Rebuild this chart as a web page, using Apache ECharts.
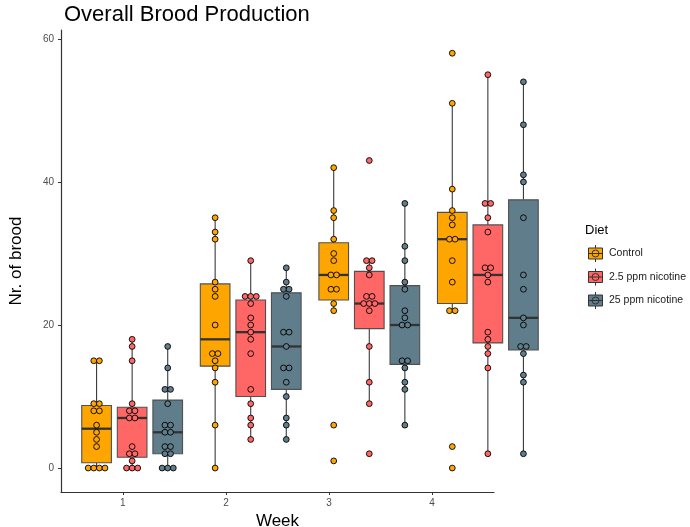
<!DOCTYPE html>
<html>
<head>
<meta charset="utf-8">
<script src="https://cdn.jsdelivr.net/npm/echarts@6/dist/echarts.min.js"></script>
<style>html,body{margin:0;padding:0;background:#fff}#c{width:690px;height:527px}</style>
</head>
<body>
<div id="c"></div>
<script>
// ---- data ----
const weeks = [1, 2, 3, 4];
const weekLabels = ['1', '2', '3', '4'];
const diets = ['Control', '2.5 ppm nicotine', '25 ppm nicotine'];
const yTicks = [0, 20, 40, 60];
const control = [
  [15,15,9,9,8,8,6,5,4,3,0,0,0,0],
  [35,33,32,26,25,24,20,16,16,15,14,12,6,0],
  [42,36,35,32,30,29,27,27,25,25,23,22,6,1],
  [58,51,39,36,35,34,32,32,29,26,22,22,3,0]
];
const nic2_5 = [
  [18,17,15,9,8,8,7,7,3,2,2,1,0,0,0],
  [29,24,24,24,23,21,20,19,18,16,11,9,7,6,4],
  [43,29,29,28,27,24,24,23,23,23,22,17,12,9,2],
  [55,37,37,35,33,28,28,27,26,19,18,17,16,14,2]
];
const nic25 = [
  [17,14,11,11,9,6,6,5,5,3,3,2,2,0,0,0],
  [28,26,25,25,24,19,19,17,14,14,12,10,7,6,4],
  [37,31,29,26,25,22,21,20,20,15,15,14,12,11,6],
  [54,48,41,40,35,27,25,21,20,17,17,16,13,12,2]
];
const groups = [control, nic2_5, nic25];
const colors = ['#FFA500', '#FF6666', '#607D8B'];

// ---- helpers ----
function quant(s, p) {
  const h = (s.length - 1) * p, lo = Math.floor(h);
  const hi = Math.min(lo + 1, s.length - 1);
  return s[lo] + (h - lo) * (s[hi] - s[lo]);
}
function boxStats(arr) {
  const s = arr.slice().sort((a, b) => a - b);
  const q1 = quant(s, 0.25), med = quant(s, 0.5), q3 = quant(s, 0.75);
  const iqr = q3 - q1;
  const lo = Math.min(...s.filter(v => v >= q1 - 1.5 * iqr));
  const hi = Math.max(...s.filter(v => v <= q3 + 1.5 * iqr));
  return [lo, q1, med, q3, hi];
}
const DODGE = 0.3, BOXW = 0.25, DOT_STEP = 5.6, DOT_R = 2.9;

const series = [];
groups.forEach((g, k) => {
  const off = (k - 1) * DODGE;
  series.push({
    type: 'custom', name: diets[k], xAxisIndex: 0, yAxisIndex: 0, z: 2,
    itemStyle: { color: colors[k] },
    data: weeks.map((w, i) => [w + off].concat(boxStats(g[i]))),
    renderItem: function (params, api) {
      const x = api.value(0);
      const lo = api.coord([x, api.value(1)]);
      const q1 = api.coord([x, api.value(2)]);
      const md = api.coord([x, api.value(3)]);
      const q3 = api.coord([x, api.value(4)]);
      const hi = api.coord([x, api.value(5)]);
      const w = api.size([BOXW, 0])[0];
      const cx = q1[0];
      const lineStyle = { stroke: '#3a3a3a', lineWidth: 1.1 };
      return {
        type: 'group',
        children: [
          { type: 'line', shape: { x1: cx, y1: q3[1], x2: cx, y2: hi[1] }, style: lineStyle },
          { type: 'line', shape: { x1: cx, y1: q1[1], x2: cx, y2: lo[1] }, style: lineStyle },
          { type: 'rect', shape: { x: cx - w / 2, y: q3[1], width: w, height: q1[1] - q3[1] },
            style: { fill: colors[k], stroke: '#505050', lineWidth: 1.1 } },
          { type: 'line', shape: { x1: cx - w / 2, y1: md[1], x2: cx + w / 2, y2: md[1] },
            style: { stroke: '#333', lineWidth: 2.3 } }
        ]
      };
    }
  });
  // dotplot points, stacked horizontally when values coincide
  const pts = [];
  weeks.forEach((w, i) => {
    const counts = {};
    g[i].forEach(v => { counts[v] = (counts[v] || 0) + 1; });
    const seen = {};
    g[i].forEach(v => {
      seen[v] = (seen[v] || 0);
      pts.push([w + off, v, seen[v], counts[v]]);
      seen[v]++;
    });
  });
  series.push({
    type: 'custom', name: diets[k], xAxisIndex: 0, yAxisIndex: 0, z: 3,
    itemStyle: { color: colors[k] },
    data: pts,
    renderItem: function (params, api) {
      const p = api.coord([api.value(0), api.value(1)]);
      const idx = api.value(2), n = api.value(3);
      return {
        type: 'circle',
        shape: { cx: p[0] + (idx - (n - 1) / 2) * DOT_STEP, cy: p[1], r: DOT_R },
        style: { fill: colors[k], stroke: '#000', lineWidth: 0.9 }
      };
    }
  });
});

const iconPath = 'path://M8.5 0 L8.5 3 M8.5 14 L8.5 17 M1.5 3 L15.5 3 L15.5 14 L1.5 14 Z M1.5 8.5 L15.5 8.5 M5 8.5 A3.5 3.5 0 1 1 12 8.5 A3.5 3.5 0 1 1 5 8.5 Z';

const FONT = 'Liberation Sans, Arial, sans-serif';
const option = {
  animation: false,
  backgroundColor: '#fff',
  textStyle: { fontFamily: FONT },
  title: [
    { text: 'Overall Brood Production', left: 59, top: -1,
      textStyle: { fontSize: 22, fontWeight: 'normal', color: '#000', fontFamily: FONT } },
    { text: 'Diet', left: 580, top: 219,
      textStyle: { fontSize: 13, fontWeight: 'normal', color: '#000', fontFamily: FONT } }
  ],
  legend: {
    orient: 'vertical', left: 583, top: 239.5,
    itemWidth: 17, itemHeight: 17, itemGap: 5.5,
    textStyle: { fontSize: 10.5, color: '#1a1a1a', fontFamily: FONT, padding: [0, 0, 0, 0] },
    selectedMode: false,
    data: diets.map((d, k) => ({ name: d, icon: iconPath,
      itemStyle: { color: colors[k], borderColor: '#333', borderWidth: 1 } }))
  },
  grid: [
    { left: 61, top: 30, width: 498, bottom: 35, containLabel: false, outerBoundsMode: 'none' },
    { left: 61, top: 30, width: 433, bottom: 35, containLabel: false, outerBoundsMode: 'none' }
  ],
  xAxis: [
    { type: 'value', gridIndex: 0, min: 0.4, max: 4.6, show: false },
    { type: 'value', gridIndex: 1, min: 0.4, max: 4.6,
      name: 'Week', nameLocation: 'middle', nameGap: 19,
      nameTextStyle: { fontSize: 17, color: '#000', fontFamily: FONT },
      axisLine: { show: true, onZero: false, lineStyle: { color: '#333', width: 1.2 } },
      axisTick: { show: true, length: 3, lineStyle: { color: '#333' }, customValues: weeks },
      axisLabel: { fontSize: 10, color: '#4d4d4d', margin: 6, customValues: weeks,
        formatter: v => weekLabels[weeks.indexOf(v)] },
      splitLine: { show: false } }
  ],
  yAxis: [
    { type: 'value', gridIndex: 0, min: -3.35, max: 61.25,
      name: 'Nr. of brood', nameLocation: 'middle', nameGap: 36,
      nameTextStyle: { fontSize: 17, color: '#000', fontFamily: FONT },
      axisLine: { show: true, onZero: false, lineStyle: { color: '#333', width: 1.2 } },
      axisTick: { show: true, length: 3, lineStyle: { color: '#333' }, customValues: yTicks },
      axisLabel: { fontSize: 10, color: '#4d4d4d', margin: 7, customValues: yTicks },
      splitLine: { show: false } },
    { type: 'value', gridIndex: 1, min: -3.35, max: 61.25, show: false }
  ],
  series: series
};
echarts.init(document.getElementById('c'), null, { renderer: 'canvas' }).setOption(option);
</script>
</body>
</html>
